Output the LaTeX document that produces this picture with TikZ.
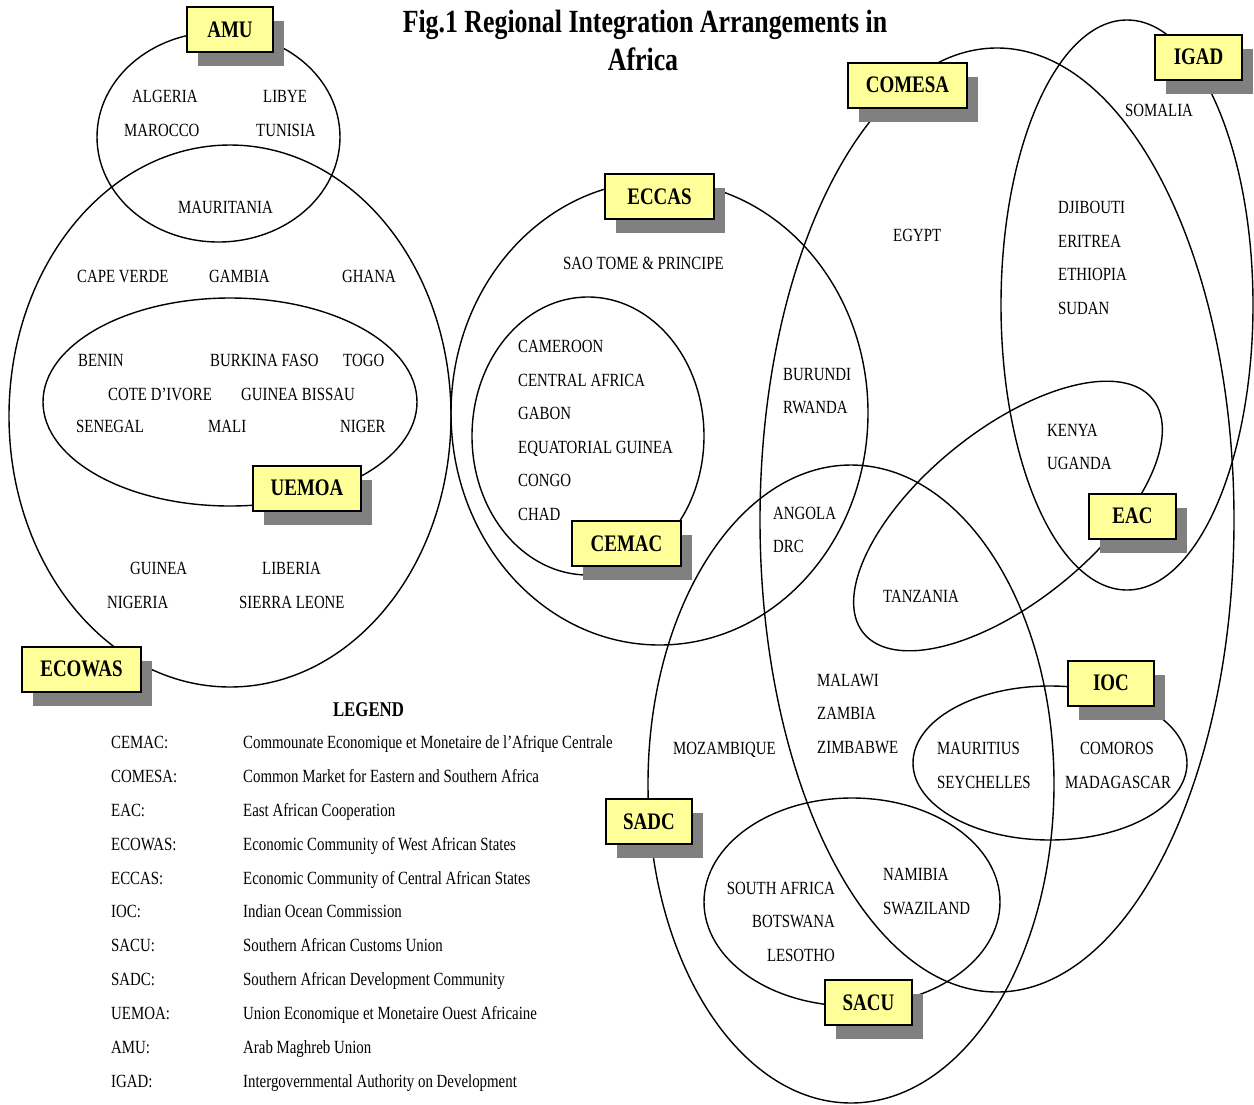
\documentclass[tikz,border=0pt]{standalone}
\usepackage{fontspec}
\setmainfont{Liberation Serif}[FakeStretch=0.8]
\usetikzlibrary{shadows}
\definecolor{boxyellow}{HTML}{FFFF99}
\definecolor{shadowgray}{HTML}{808080}
\newcommand\ctryfont{\fontsize{18.6}{22}\selectfont}
\newcommand\labfont{\fontsize{23.7}{28}\selectfont\bfseries}
\newcommand\ttlfont{\fontsize{32.3}{38}\selectfont\bfseries}
\newcommand\legheadfont{\fontsize{21}{24}\selectfont\bfseries}
\begin{document}
\begin{tikzpicture}[x=1pt,y=-1pt,
  region/.style={draw=black, line width=1.4pt},
  labbox/.style={draw=black, line width=2pt, fill=boxyellow, inner sep=0pt,
    minimum height=45pt, font=\labfont,
    general shadow={fill=shadowgray, shadow xshift=11pt, shadow yshift=-14pt}},
  txt/.style={anchor=base west, inner sep=0pt, font=\ctryfont},
  rtxt/.style={anchor=base east, inner sep=0pt, font=\ctryfont}]
\fill[white] (0,0) rectangle (1254,1104);
\useasboundingbox (0,0) rectangle (1254,1104);

% ---------- regions ----------
\draw[region] (218.5,137) ellipse [x radius=121.5pt, y radius=105pt];   % AMU
\draw[region] (230,416) ellipse [x radius=221pt, y radius=271pt];       % ECOWAS
\draw[region] (230,402) ellipse [x radius=187pt, y radius=104pt];       % UEMOA
\draw[region] (659.5,413) ellipse [x radius=208.5pt, y radius=232pt];   % ECCAS
\draw[region] (588,436) ellipse [x radius=116pt, y radius=139pt];       % CEMAC
\draw[region] (997,520) ellipse [x radius=237pt, y radius=472pt];       % COMESA
\draw[region] (1127,305) ellipse [x radius=126pt, y radius=285pt];      % IGAD
\draw[region, rotate around={39:(1008,516)}] (1008,516) ellipse [x radius=186pt, y radius=86pt]; % EAC
\draw[region] (851,784) ellipse [x radius=203pt, y radius=319pt];       % SADC
\draw[region] (852,902) ellipse [x radius=148pt, y radius=104pt];       % SACU
\draw[region] (1050,763) ellipse [x radius=137pt, y radius=77pt];       % IOC

% ---------- labels ----------
\node[labbox, minimum width=86pt]  (amu)    at (230,29.5)    {AMU};
\node[labbox, minimum width=119pt] (comesa) at (907.5,85)    {COMESA};
\node[labbox, minimum width=87pt]  (igad)   at (1198.5,57)   {IGAD};
\node[labbox, minimum width=109pt] (eccas)  at (659.5,196.5) {ECCAS};
\node[labbox, minimum width=108pt] (uemoa)  at (307,488)     {UEMOA};
\node[labbox, minimum width=109pt] (cemac)  at (626.5,543.5) {CEMAC};
\node[labbox, minimum width=119pt] (ecowas) at (81.5,669)    {ECOWAS};
\node[labbox, minimum width=87pt]  (eac)    at (1132.5,516)  {EAC};
\node[labbox, minimum width=86pt]  (ioc)    at (1111,683)    {IOC};
\node[labbox, minimum width=86pt]  (sadc)   at (649,821.5)   {SADC};
\node[labbox, minimum width=87pt]  (sacu)   at (868.5,1002.5){SACU};

% ---------- title ----------
\node[font=\ttlfont, anchor=base, inner sep=0pt] (title1) at (645,32) {Fig.1 Regional Integration Arrangements in};
\node[font=\ttlfont, anchor=base, inner sep=0pt] (title2) at (643,70) {Africa};

% ---------- countries ----------
\node[txt] (algeria) at (132,102.2) {ALGERIA};
\node[txt] (libye)   at (263,102.2) {LIBYE};
\node[txt] (marocco) at (124,136.2) {MAROCCO};
\node[txt] (tunisia) at (256,136.2) {TUNISIA};
\node[txt] (mauritania) at (178,213.2) {MAURITANIA};
\node[txt] (capeverde) at (77,282.2) {CAPE VERDE};
\node[txt] (gambia)  at (209,282.2) {GAMBIA};
\node[txt] (ghana)   at (342,282.2) {GHANA};
\node[txt] (benin)   at (78,366.2)  {BENIN};
\node[txt] (burkina) at (210,366.2) {BURKINA FASO};
\node[txt] (togo)    at (343,366.2) {TOGO};
\node[txt] (cote)    at (108,400.2) {COTE D’IVORE};
\node[txt] (gbissau) at (241,400.2) {GUINEA BISSAU};
\node[txt] (senegal) at (76,432.2)  {SENEGAL};
\node[txt] (mali)    at (208,432.2) {MALI};
\node[txt] (niger)   at (340,432.2) {NIGER};
\node[txt] (guinea)  at (130,574.2) {GUINEA};
\node[txt] (liberia) at (262,574.2) {LIBERIA};
\node[txt] (nigeria) at (107,608.2) {NIGERIA};
\node[txt] (sierra)  at (239,608.2) {SIERRA LEONE};
\node[txt] (saotome) at (563,269.2) {SAO TOME \& PRINCIPE};
\node[txt] (cameroon) at (518,352.2) {CAMEROON};
\node[txt] (centralaf) at (518,386.2) {CENTRAL AFRICA};
\node[txt] (gabon)   at (518,419.2) {GABON};
\node[txt] (eqguinea) at (518,453.2) {EQUATORIAL GUINEA};
\node[txt] (congo)   at (518,486.2) {CONGO};
\node[txt] (chad)    at (518,520.2) {CHAD};
\node[txt] (burundi) at (783,380.2) {BURUNDI};
\node[txt] (rwanda)  at (783,413.2) {RWANDA};
\node[txt] (angola)  at (773,519.2) {ANGOLA};
\node[txt] (drc)     at (773,552.2) {DRC};
\node[txt] (egypt)   at (893,241.2) {EGYPT};
\node[txt] (somalia) at (1125,116.2) {SOMALIA};
\node[txt] (djibouti) at (1058,213.2) {DJIBOUTI};
\node[txt] (eritrea) at (1058,247.2) {ERITREA};
\node[txt] (ethiopia) at (1058,280.2) {ETHIOPIA};
\node[txt] (sudan)   at (1058,314.2) {SUDAN};
\node[txt] (kenya)   at (1047,436.2) {KENYA};
\node[txt] (uganda)  at (1047,469.2) {UGANDA};
\node[txt] (tanzania) at (883,602.2) {TANZANIA};
\node[txt] (malawi)  at (817,686.2) {MALAWI};
\node[txt] (zambia)  at (817,719.2) {ZAMBIA};
\node[txt] (zimbabwe) at (817,753.2) {ZIMBABWE};
\node[txt] (mozambique) at (673,754.2) {MOZAMBIQUE};
\node[txt] (mauritius) at (937,754.2) {MAURITIUS};
\node[txt] (seychelles) at (937,788.2) {SEYCHELLES};
\node[txt] (comoros) at (1080,754.2) {COMOROS};
\node[txt] (madagascar) at (1065,788.2) {MADAGASCAR};
\node[rtxt] (southafrica) at (835,894.2) {SOUTH AFRICA};
\node[rtxt] (botswana) at (835,927.2) {BOTSWANA};
\node[rtxt] (lesotho) at (835,961.2) {LESOTHO};
\node[txt] (namibia) at (883,880.2) {NAMIBIA};
\node[txt] (swaziland) at (883,914.2) {SWAZILAND};

% ---------- legend ----------
\node[font=\legheadfont, anchor=base, inner sep=0pt] (legend) at (368.5,716) {LEGEND};
\foreach \ab/\de [count=\i from 0] in {
  CEMAC:/Commounate Economique et Monetaire de l’Afrique Centrale,
  COMESA:/Common Market for Eastern and Southern Africa,
  EAC:/East African Cooperation,
  ECOWAS:/Economic Community of West African States,
  ECCAS:/Economic Community of Central African States,
  IOC:/Indian Ocean Commission,
  SACU:/Southern African Customs Union,
  SADC:/Southern African Development Community,
  UEMOA:/Union Economique et Monetaire Ouest Africaine,
  AMU:/Arab Maghreb Union,
  IGAD:/Intergovernmental Authority on Development}{
  \node[txt] (ab\i) at (111,748.2+33.95*\i) {\ab};
  \node[txt] (de\i) at (243,748.2+33.95*\i) {\de};
}
\end{tikzpicture}
\end{document}
